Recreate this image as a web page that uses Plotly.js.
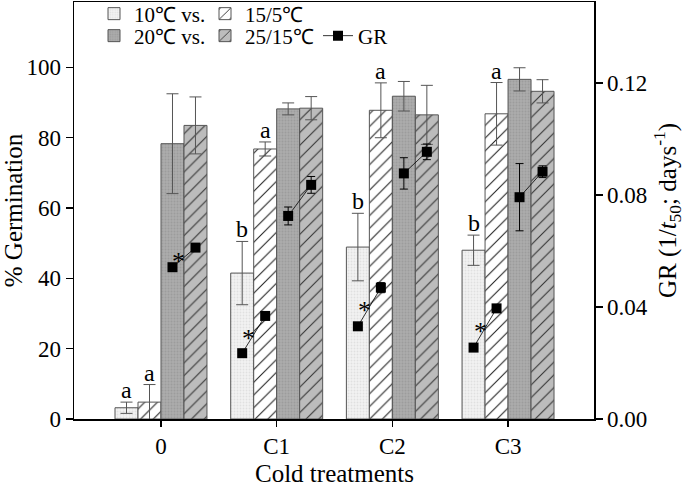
<!DOCTYPE html>
<html>
<head>
<meta charset="utf-8">
<script src="https://cdn.plot.ly/plotly-3.0.1.min.js"></script>
<style>html,body{margin:0;padding:0;background:#fff;}#chart{width:685px;height:486px;}</style>
</head>
<body>
<div id="chart"></div>
<script>
// ---- data ----
var categories = ['0', 'C1', 'C2', 'C3'];
var seriesNames = ['10\u2103 vs.', '15/5\u2103', '20\u2103 vs.', '25/15\u2103'];
var xTitle = 'Cold treatments';

var germ10 = [3.2, 41.5, 48.9, 48.0];
var err10  = [1.6, 9.0, 9.6, 4.3];
var germ15 = [4.8, 76.8, 87.8, 86.8];
var err15  = [5.0, 2.0, 7.8, 8.9];
var germ20 = [78.3, 88.2, 91.8, 96.6];
var err20  = [14.2, 1.7, 4.2, 3.3];
var germ25 = [83.5, 88.4, 86.5, 93.2];
var err25  = [8.1, 3.3, 8.4, 3.3];

var gr10    = [null, 0.0235, 0.0331, 0.0255];
var gr10Err = [0, 0, 0, 0];
var gr15    = [null, 0.0368, 0.0469, 0.0395];
var gr15Err = [0, 0.0006, 0.0018, 0.0006];
var gr20    = [0.0542, 0.0725, 0.0877, 0.0792];
var gr20Err = [0, 0.0032, 0.0056, 0.0120];
var gr25    = [0.0612, 0.0836, 0.0954, 0.0883];
var gr25Err = [0, 0.0030, 0.0028, 0.0021];

var letters10 = ['a', 'b', 'b', 'b'];
var letters15 = ['a', 'a', 'a', 'a'];
// asterisk marks: [group, pair] pair 0 = 10 vs 15/5, pair 1 = 20 vs 25/15
var starMarks = [[0, 1], [1, 0], [2, 0], [3, 0]];

// ---- layout constants ----
var BARGAP = 0.205;
var FONT = 'Liberation Serif, Times New Roman, serif';
var idx = categories.map(function (c, i) { return i; });
var groupW = 1 - BARGAP, barW = groupW / 4;
function off(k) { return -groupW / 2 + barW * (k + 0.5); }

var germ = [germ10, germ15, germ20, germ25];
var germErr = [err10, err15, err20, err25];
var styles = [
  {color: '#f3f3f3', pattern: {shape: '.', fgcolor: '#e0e0e0', bgcolor: '#f3f3f3', size: 3, solidity: 0.3, fillmode: 'replace'}},
  {color: '#ffffff', pattern: {shape: '/', fgcolor: '#222222', bgcolor: '#ffffff', size: 9, solidity: 0.12, fillmode: 'replace'}},
  {color: '#acacac', pattern: {shape: '.', fgcolor: '#9c9c9c', bgcolor: '#acacac', size: 3, solidity: 0.3, fillmode: 'replace'}},
  {color: '#bcbcbc', pattern: {shape: '/', fgcolor: '#333333', bgcolor: '#bcbcbc', size: 9, solidity: 0.12, fillmode: 'replace'}}
];
var legendWidths = [66, 66, 66, 68];

var traces = [];
for (var k = 0; k < 4; k++) {
  traces.push({
    type: 'bar', x: idx, y: germ[k], name: seriesNames[k],
    legend: k < 2 ? 'legend' : 'legend2',
    legendwidth: legendWidths[k],
    marker: {color: styles[k].color, pattern: styles[k].pattern, line: {color: '#555555', width: 1}},
    error_y: {type: 'data', array: germErr[k], visible: true, color: '#555555', thickness: 1, width: 6},
    hoverinfo: 'skip'
  });
}

// GR line segments (pairs), built from data
var grVals = [gr10, gr15, gr20, gr25];
var grErrs = [gr10Err, gr15Err, gr20Err, gr25Err];
var gx = [], gy = [], ge = [];
for (var g = 0; g < categories.length; g++) {
  for (var p = 0; p < 2; p++) {
    var a = p * 2, b = p * 2 + 1;
    if (grVals[a][g] === null) continue;
    gx.push(g + off(a), g + off(b), null);
    gy.push(grVals[a][g], grVals[b][g], null);
    ge.push(grErrs[a][g], grErrs[b][g], null);
  }
}
traces.push({
  type: 'scatter', mode: 'lines+markers', x: gx, y: gy, yaxis: 'y2', name: 'GR',
  legend: 'legend2', connectgaps: false, legendwidth: 30,
  line: {color: '#000000', width: 0.8},
  marker: {symbol: 'square', size: 10, color: '#000000'},
  error_y: {type: 'data', array: ge, visible: true, color: '#000000', thickness: 1, width: 4},
  hoverinfo: 'skip'
});

// annotations
var ann = [];
for (var g2 = 0; g2 < categories.length; g2++) {
  ann.push({x: g2 + off(0), y: germ10[g2] + err10[g2], xref: 'x', yref: 'y', text: letters10[g2],
    showarrow: false, yanchor: 'bottom', font: {family: FONT, size: 24, color: '#000'}, yshift: -3});
  ann.push({x: g2 + off(1), y: germ15[g2] + err15[g2], xref: 'x', yref: 'y', text: letters15[g2],
    showarrow: false, yanchor: 'bottom', font: {family: FONT, size: 24, color: '#000'}, yshift: -3});
}
starMarks.forEach(function (s) {
  var g = s[0], a = s[1] * 2, b = a + 1;
  ann.push({x: g + (off(a) + off(b)) / 2, y: (grVals[a][g] + grVals[b][g]) / 2, xref: 'x', yref: 'y2',
    text: '*', showarrow: false, xanchor: 'center', yanchor: 'middle', xshift: -5, yshift: -4,
    font: {family: FONT, size: 26, color: '#000'}});
});
// x-axis title (as annotation so it can sit as low as in the reference)
ann.push({x: 0.5, y: 0, xref: 'paper', yref: 'paper', text: xTitle, showarrow: false,
  xanchor: 'center', yanchor: 'middle', yshift: -54, font: {family: FONT, size: 25, color: '#000'}});

var layout = {
  width: 685, height: 486,
  margin: {l: 74, r: 91, t: 2, b: 67, autoexpand: false},
  paper_bgcolor: '#ffffff', plot_bgcolor: '#ffffff',
  font: {family: FONT, size: 22, color: '#000'},
  barmode: 'group', bargap: BARGAP, bargroupgap: 0,
  xaxis: {
    range: [-0.752, 3.743], tickvals: idx, ticktext: categories,
    showgrid: false, zeroline: false, showline: true, linecolor: '#000', linewidth: 1.5, mirror: true,
    ticks: 'outside', ticklen: 6, tickwidth: 1.5, tickcolor: '#000',
    tickfont: {family: FONT, size: 23}
  },
  yaxis: {
    range: [0, 118.6], tickvals: [0, 20, 40, 60, 80, 100],
    showgrid: false, zeroline: false, showline: true, linecolor: '#000', linewidth: 1.5,
    ticks: 'outside', ticklen: 7, tickwidth: 1.2, tickcolor: '#000',
    tickfont: {family: FONT, size: 23},
    title: {text: '% Germination', font: {family: FONT, size: 25}}
  },
  yaxis2: {
    overlaying: 'y', side: 'right', range: [0, 0.1489], tickvals: [0, 0.04, 0.08, 0.12], tickformat: '.2f',
    showgrid: false, zeroline: false, showline: true, linecolor: '#000', linewidth: 1.5,
    ticks: 'outside', ticklen: 7, tickwidth: 1.2, tickcolor: '#000',
    tickfont: {family: FONT, size: 23},
    title: {text: 'GR (1/<i>t</i><sub>50</sub>; days<sup>-1</sup>)', font: {family: FONT, size: 25}}
  },
  legend: {orientation: 'h', x: 20 / 520, xanchor: 'left', y: 1 - 12 / 417, yanchor: 'middle',
    bgcolor: 'rgba(0,0,0,0)', font: {family: FONT, size: 21}, traceorder: 'normal', tracegroupgap: 0},
  legend2: {orientation: 'h', x: 20 / 520, xanchor: 'left', y: 1 - 34 / 417, yanchor: 'middle',
    bgcolor: 'rgba(0,0,0,0)', font: {family: FONT, size: 21}, traceorder: 'normal', tracegroupgap: 0},
  annotations: ann,
  showlegend: true
};

Plotly.newPlot('chart', traces, layout, {staticPlot: true, displayModeBar: false});
</script>
</body>
</html>
